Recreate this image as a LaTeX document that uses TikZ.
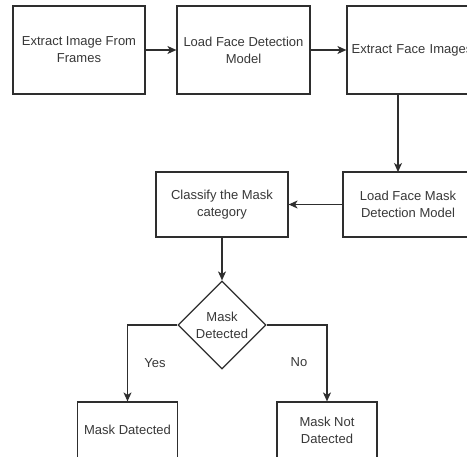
\documentclass[tikz,border=0pt]{standalone}
\usepackage{fontspec}
\setmainfont{Liberation Sans}
\usetikzlibrary{shapes.geometric,arrows.meta,positioning}
\definecolor{linec}{HTML}{2E2E2E}
\definecolor{textc}{HTML}{383838}
\begin{document}
\begin{tikzpicture}[x=1pt,y=-1pt,
  txt/.style={font=\fontsize{13}{17}\selectfont, text=textc, align=center},
  box/.style={txt, draw=linec, line width=1.2pt, fill=white, inner sep=2pt},
  dec/.style={txt, draw=linec, line width=1.2pt, diamond, aspect=1, inner sep=0pt, minimum width=88pt, minimum height=88pt},
  arr/.style={draw=linec, line width=1.2pt, -{Stealth[length=9pt,width=8pt,inset=2.5pt]}},
  lbl/.style={font=\fontsize{13}{17}\selectfont, text=textc}]
\useasboundingbox (0,0) rectangle (467,457);
\clip (0,0) rectangle (467,457);
\fill[white] (0,0) rectangle (467,457);
\node[box, minimum width=132pt, minimum height=88pt] (b1) at (79,50) {Extract Image From\\Frames};
\node[box, minimum width=133pt, minimum height=88pt] (b2) at (243.5,50) {Load Face Detection\\Model};
\node[box, minimum width=130pt, minimum height=88pt, text width=126pt] (b3) at (412,50) {Extract Face Images};
\node[box, minimum width=130pt, minimum height=65pt] (b4) at (408,204.5) {Load Face Mask\\Detection Model};
\node[box, minimum width=132pt, minimum height=65pt] (b5) at (222,204.5) {Classify the Mask\\category};
\node[dec] (d) at (222,325) {Mask\\Detected};
\node[box, minimum width=100pt, minimum height=56pt] (b6) at (127.5,430) {Mask Datected};
\node[box, minimum width=100pt, minimum height=56pt] (b7) at (327,430) {Mask Not\\Datected};
\coordinate (c3) at (398,94);
\coordinate (c4) at (398,172);
\draw[arr] (b1) -- (b2);
\draw[arr] (b2) -- (b3.west |- b2);
\draw[arr] (c3) -- (c4);
\draw[arr] (b4) -- (b5);
\draw[arr] (b5) -- (d);
\draw[arr] (d.west) -| (b6.north);
\draw[arr] (d.east) -| (b7.north);
\node[lbl] (yes) at (155,363) {Yes};
\node[lbl] (no) at (299,362) {No};
\end{tikzpicture}
\end{document}
